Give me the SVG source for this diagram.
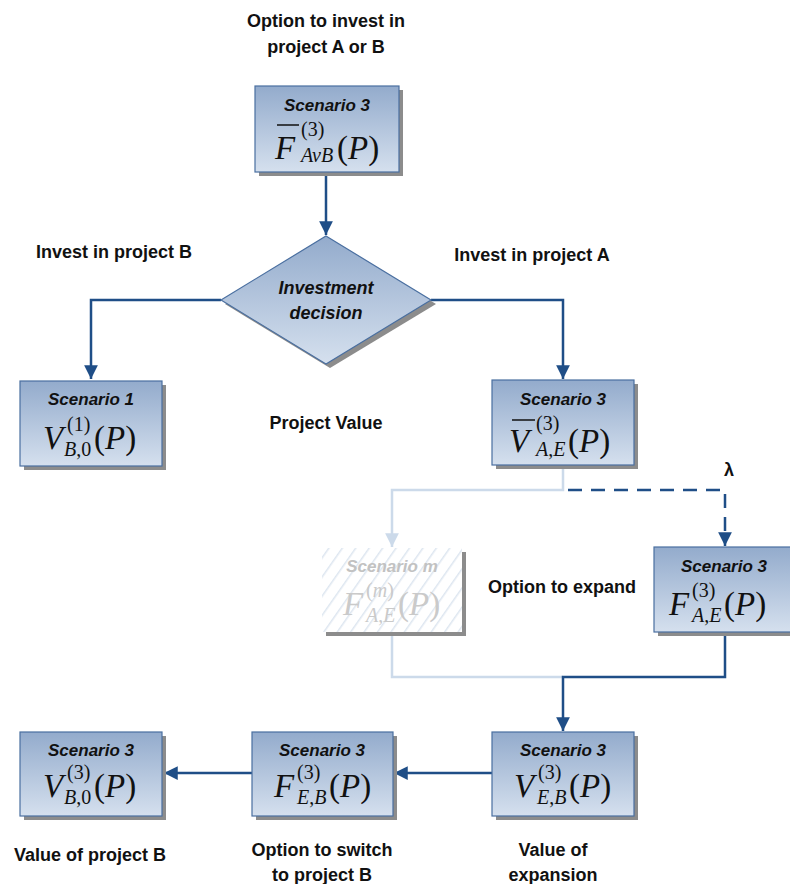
<svg xmlns="http://www.w3.org/2000/svg" width="790" height="884" viewBox="0 0 790 884">
<defs>
<linearGradient id="g" x1="0" y1="0" x2="0" y2="1">
<stop offset="0" stop-color="#93abcc"/>
<stop offset="1" stop-color="#d5e0ee"/>
</linearGradient>
<pattern id="hatch" width="11" height="11" patternUnits="userSpaceOnUse" patternTransform="rotate(35)">
<line x1="0" y1="0" x2="0" y2="11" stroke="#dde6f0" stroke-width="3"/>
</pattern>
<marker id="ah" viewBox="0 0 10 10" refX="10" refY="5" markerWidth="5.5" markerHeight="5.5" orient="auto" markerUnits="strokeWidth">
<path d="M0,0 L10,5 L0,10 z" fill="#1f4e87"/>
</marker>
<marker id="ahl" viewBox="0 0 10 10" refX="10" refY="5" markerWidth="5.5" markerHeight="5.5" orient="auto" markerUnits="strokeWidth">
<path d="M0,0 L10,5 L0,10 z" fill="#ccdaea"/>
</marker>
</defs>
<style>
.box{fill:url(#g);stroke:#4a6fa0;stroke-width:1.2}
.sh{fill:#8c8c8c}
.ttl{font-family:"Liberation Sans",Arial,sans-serif;font-weight:bold;font-style:italic;font-size:17px;text-anchor:middle;fill:#111}
.dt{font-size:18px}
.lbl{font-family:"Liberation Sans",Arial,sans-serif;font-weight:bold;font-size:18px;text-anchor:middle;fill:#111}
.m{font-family:"Liberation Serif","Times New Roman",serif;font-size:33px;fill:#111}
.s{font-family:"Liberation Serif","Times New Roman",serif;font-size:20px;fill:#111}
.i{font-style:italic}
.c{fill:none;stroke:#1f4e87;stroke-width:2.5}
.cl{fill:none;stroke:#ccdaea;stroke-width:2.5}
.ghost .m,.ghost .s{fill:#cacaca}
.ghost .ttl{fill:#c2c2c2}
</style>

<g id="connectors">
<path class="c" d="M326,172 L326,235" marker-end="url(#ah)"/>
<path class="c" d="M221,300 L91,300 L91,379" marker-end="url(#ah)"/>
<path class="c" d="M431,300 L563,300 L563,379" marker-end="url(#ah)"/>
<path class="cl" d="M563,466 L563,490 L392,490 L392,547" marker-end="url(#ahl)"/>
<path class="c" d="M568,490 L725,490 L725,546" stroke-dasharray="14,9" marker-end="url(#ah)"/>
<path class="cl" d="M392,636 L392,677 L563,677"/>
<path class="c" d="M725,633 L725,677 L563,677 L563,731" marker-end="url(#ah)"/>
<path class="c" d="M492,773 L394,773" marker-end="url(#ah)"/>
<path class="c" d="M252,773 L164,773" marker-end="url(#ah)"/>
</g>

<g id="top">
<rect class="sh" x="259" y="90" width="144" height="86"/>
<rect class="box" x="255" y="86" width="144" height="86"/>
<text class="ttl" x="327" y="111">Scenario 3</text>
<line x1="277" y1="125" x2="299" y2="125" stroke="#111" stroke-width="1.5"/>
<text class="m i" x="275" y="159">F</text>
<text class="s" x="301" y="136">(3)</text>
<text class="s i" x="301" y="162">AvB</text>
<text class="m" x="337" y="159">(<tspan class="i">P</tspan>)</text>
</g>

<g id="decision">
<polygon points="330,240 436,304 330,368 225,304" fill="#8c8c8c"/>
<polygon points="326,236 431,300 326,364 221,300" fill="url(#g)" stroke="#4a6fa0" stroke-width="1.2"/>
<text class="ttl dt" x="326" y="294">Investment</text>
<text class="ttl dt" x="326" y="319">decision</text>
</g>

<g id="s1">
<rect class="sh" x="24" y="385" width="142" height="85"/>
<rect class="box" x="20" y="381" width="142" height="85"/>
<text class="ttl" x="91" y="405">Scenario 1</text>
<text class="m i" x="43" y="449">V</text>
<text class="s" x="67" y="431">(1)</text>
<text class="s i" x="64" y="456">B<tspan font-style="normal">,0</tspan></text>
<text class="m" x="94" y="449">(<tspan class="i">P</tspan>)</text>
</g>

<g id="vae">
<rect class="sh" x="496" y="384" width="142" height="85"/>
<rect class="box" x="492" y="380" width="142" height="85"/>
<text class="ttl" x="563" y="405">Scenario 3</text>
<line x1="512" y1="420" x2="535" y2="420" stroke="#111" stroke-width="1.5"/>
<text class="m i" x="509" y="452">V</text>
<text class="s" x="536" y="430">(3)</text>
<text class="s i" x="536" y="456">A<tspan font-style="normal">,</tspan>E</text>
<text class="m" x="568" y="452">(<tspan class="i">P</tspan>)</text>
</g>

<g id="sm" class="ghost">
<rect class="sh" x="326" y="552" width="140" height="84" fill="#9a9a9a"/>
<rect x="322" y="548" width="140" height="84" fill="#ffffff"/>
<rect x="322" y="548" width="140" height="84" fill="url(#hatch)"/>
<text class="ttl" x="392" y="572">Scenario m</text>
<text class="m i" x="343" y="615">F</text>
<text class="s i" x="366" y="597"><tspan font-style="normal">(</tspan>m<tspan font-style="normal">)</tspan></text>
<text class="s i" x="366" y="622">A<tspan font-style="normal">,</tspan>E</text>
<text class="m" x="398" y="615">(<tspan class="i">P</tspan>)</text>
</g>

<g id="fae">
<rect class="sh" x="658" y="551" width="142" height="85"/>
<rect class="box" x="654" y="547" width="142" height="85"/>
<text class="ttl" x="724" y="572">Scenario 3</text>
<text class="m i" x="669" y="615">F</text>
<text class="s" x="692" y="597">(3)</text>
<text class="s i" x="692" y="622">A<tspan font-style="normal">,</tspan>E</text>
<text class="m" x="724" y="615">(<tspan class="i">P</tspan>)</text>
</g>

<g id="veb">
<rect class="sh" x="496" y="736" width="142" height="84"/>
<rect class="box" x="492" y="732" width="142" height="84"/>
<text class="ttl" x="563" y="756">Scenario 3</text>
<text class="m i" x="514" y="797">V</text>
<text class="s" x="538" y="779">(3)</text>
<text class="s i" x="537" y="804">E<tspan font-style="normal">,</tspan>B</text>
<text class="m" x="569" y="797">(<tspan class="i">P</tspan>)</text>
</g>

<g id="feb">
<rect class="sh" x="256" y="736" width="141" height="84"/>
<rect class="box" x="252" y="732" width="141" height="84"/>
<text class="ttl" x="322" y="756">Scenario 3</text>
<text class="m i" x="274" y="797">F</text>
<text class="s" x="297" y="779">(3)</text>
<text class="s i" x="297" y="804">E<tspan font-style="normal">,</tspan>B</text>
<text class="m" x="329" y="797">(<tspan class="i">P</tspan>)</text>
</g>

<g id="vb0">
<rect class="sh" x="24" y="736" width="142" height="84"/>
<rect class="box" x="20" y="732" width="142" height="84"/>
<text class="ttl" x="91" y="756">Scenario 3</text>
<text class="m i" x="43" y="797">V</text>
<text class="s" x="67" y="779">(3)</text>
<text class="s i" x="64" y="804">B<tspan font-style="normal">,0</tspan></text>
<text class="m" x="94" y="797">(<tspan class="i">P</tspan>)</text>
</g>

<g id="labels">
<text class="lbl" x="326" y="27">Option to invest in</text>
<text class="lbl" x="326" y="53">project A or B</text>
<text class="lbl" x="114" y="258">Invest in project B</text>
<text class="lbl" x="532" y="261">Invest in project A</text>
<text class="lbl" x="326" y="429">Project Value</text>
<text class="lbl" x="729" y="476">λ</text>
<text class="lbl" x="562" y="593">Option to expand</text>
<text class="lbl" x="90" y="861">Value of project B</text>
<text class="lbl" x="322" y="856">Option to switch</text>
<text class="lbl" x="322" y="881">to project B</text>
<text class="lbl" x="553" y="856">Value of</text>
<text class="lbl" x="553" y="881">expansion</text>
</g>
</svg>
